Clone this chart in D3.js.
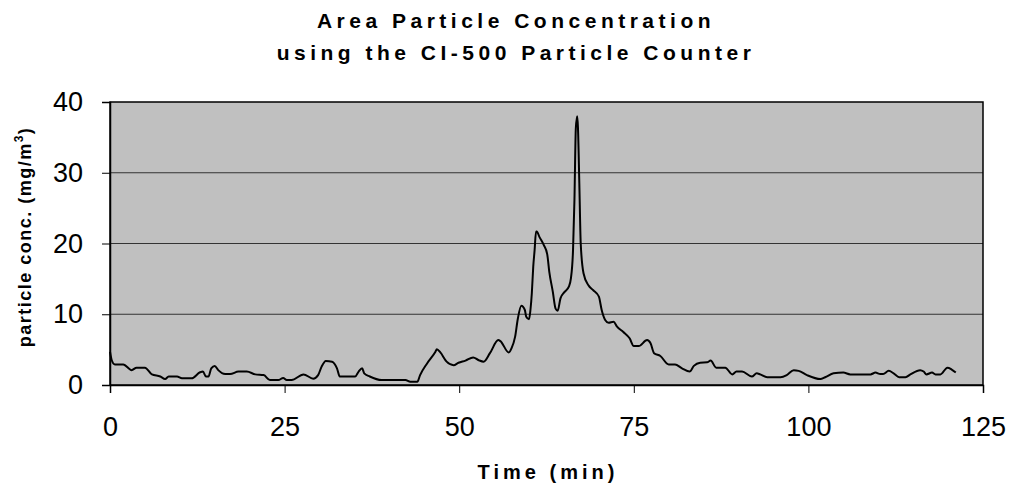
<!DOCTYPE html>
<html>
<head>
<meta charset="utf-8">
<script src="https://cdn.jsdelivr.net/npm/d3@7"></script>
<style>
  body { margin: 0; background: #fff; }
  svg { display: block; font-family: "Liberation Sans", Arial, sans-serif; }
</style>
</head>
<body>
<div id="chart"></div>
<script>
// time in minutes
const times = [0, 0.25, 0.7, 1.9, 3.1, 3.8, 5.0, 6.0, 7.2, 7.9, 8.4, 9.6, 10.3, 11.7, 12.9, 13.3, 13.75, 14.1, 14.5, 15.0, 15.5, 16.5, 17.2, 18.4, 19.6, 20.8, 22.0, 22.9, 24.1, 24.8, 25.3, 26.0,
  27.7, 29.1, 29.8, 30.3, 30.9, 31.8, 32.5, 32.9, 33.4, 35.1, 35.6, 36.1, 36.4, 37.2, 38.9, 42.3, 43.0, 44.0, 44.4, 45.4, 46.6, 46.8, 47.3, 48.2, 49.2, 49.9, 50.9, 52.0, 52.8, 53.5,
  54.4, 55.6, 55.9, 57.1, 57.5, 58.0, 58.4, 58.9, 59.4, 59.6, 60.0, 60.2, 60.4, 60.6, 60.8, 61.0, 61.1, 61.5, 62.1, 62.6, 62.9, 63.4, 63.8, 64.1, 64.5, 65.0, 65.7, 66.0, 66.3, 66.5,
  66.7, 66.9, 67.0, 67.2, 67.4, 67.8, 68.5, 69.2, 70.0, 70.4, 70.9, 71.4, 72.1, 72.6, 73.5, 74.4, 75.0, 75.7, 76.9, 77.4, 77.9, 78.8, 80.0, 80.9, 81.9, 83.0, 83.6, 84.5, 85.5, 86.0,
  86.8, 88.1, 89.1, 89.7, 90.5, 91.9, 92.6, 93.1, 94.1, 96.0, 96.9, 97.9, 98.6, 99.8, 101.7, 102.4, 103.6, 105.0, 106.0, 108.9, 109.6, 110.3, 110.7, 111.5, 112.2, 113.0, 113.9,
  114.6, 116.0, 116.5, 116.9, 117.7, 118.2, 118.9, 119.9, 121.1];

// particle concentration, mg/m3
const conc = [4.7, 3.5, 2.9, 2.9, 2.1, 2.45, 2.45, 1.5, 1.2, 0.85, 1.2, 1.2, 0.95, 0.95, 1.8, 1.9, 1.2, 1.2, 2.35, 2.7, 2.1, 1.55, 1.55, 1.9, 1.9, 1.5, 1.4, 0.7, 0.7, 1.0, 0.7, 0.7,
  1.5, 0.9, 1.4, 2.6, 3.4, 3.3, 2.35, 1.2, 1.2, 1.2, 1.9, 2.35, 1.65, 1.2, 0.7, 0.7, 0.45, 0.45, 1.4, 3.05, 4.7, 5.05, 4.6, 3.3, 2.8, 3.15, 3.45, 3.9, 3.5, 3.3,
  4.5, 6.35, 6.2, 4.6, 5.2, 6.8, 9.4, 11.2, 10.6, 9.65, 9.3, 10.6, 13.0, 16.7, 19.1, 21.7, 21.7, 20.9, 19.8, 18.5, 16.0, 13.2, 10.8, 10.5, 12.25, 13.05, 13.9, 15.1, 19.1, 26.1,
  36.3, 38.0, 36.5, 28.5, 20.0, 15.8, 14.1, 13.4, 12.5, 10.6, 9.2, 8.8, 8.95, 8.25, 7.5, 6.6, 5.5, 5.5, 6.35, 5.9, 4.5, 4.1, 2.9, 2.9, 2.35, 1.9, 2.7, 3.15, 3.2, 3.45,
  2.45, 2.45, 1.5, 1.9, 1.9, 1.2, 1.65, 1.5, 1.1, 1.1, 1.4, 2.1, 2.0, 1.4, 0.85, 1.1, 1.65, 1.75, 1.5, 1.5, 1.75, 1.55, 1.55, 2.0, 1.65, 1.1, 1.1,
  1.5, 2.1, 1.9, 1.5, 1.75, 1.5, 1.5, 2.45, 1.75];

const xTicks = [0, 25, 50, 75, 100, 125];
const yTicks = [0, 10, 20, 30, 40];

const W = 1012, H = 493;
const margin = {top: 102, right: 29, bottom: 108, left: 110};
const width = W - margin.left - margin.right,
      height = H - margin.top - margin.bottom;

const svg = d3.select("#chart").append("svg")
    .attr("width", W)
    .attr("height", H);

// titles (spaced out like the original)
const tx = 516;
const title = svg.append("text")
    .attr("x", tx).attr("y", 28)
    .attr("text-anchor", "middle")
    .style("font-size", "21px").style("font-weight", "bold").style("letter-spacing", "4.5px");
title.append("tspan").attr("x", tx).text("Area Particle Concentration");
title.append("tspan").attr("x", tx).attr("dy", 32).text("using the CI-500 Particle Counter");

const g = svg.append("g")
    .attr("transform", "translate(" + margin.left + "," + margin.top + ")");

const x = d3.scaleLinear().domain([0, 125]).range([0, width]);
const y = d3.scaleLinear().domain([0, 40]).range([height, 0]);

// plot area
g.append("rect")
    .attr("width", width).attr("height", height)
    .attr("fill", "#c0c0c0");

// gridlines
g.append("g").selectAll("line")
  .data(yTicks.filter(d => d > 0 && d < 40))
  .enter().append("line")
    .attr("x1", 0).attr("x2", width)
    .attr("y1", d => y(d)).attr("y2", d => y(d))
    .attr("stroke", "#333").attr("stroke-width", 1);

g.append("rect")
    .attr("width", width).attr("height", height)
    .attr("fill", "none").attr("stroke", "#000").attr("stroke-width", 1.5);

// axes
const xAxis = g.append("g")
    .attr("transform", "translate(0," + height + ")")
    .call(d3.axisBottom(x).tickValues(xTicks).tickSize(8).tickPadding(24).tickFormat(d3.format("d")));
const yAxis = g.append("g")
    .call(d3.axisLeft(y).tickValues(yTicks).tickSize(8).tickPadding(19).tickFormat(d3.format("d")));

[xAxis, yAxis].forEach(a => {
  a.select(".domain").attr("stroke", "#000").attr("stroke-width", 1.5);
  a.selectAll(".tick line").attr("stroke", "#000").attr("stroke-width", 1);
  a.selectAll(".tick text").attr("fill", "#000")
    .style("font-size", "27px").style("font-family", "'Liberation Sans', Arial, sans-serif");
});

// data line
const line = d3.line()
    .x((d, i) => x(times[i]))
    .y(d => y(d))
    .curve(d3.curveMonotoneX);

g.append("path")
    .datum(conc)
    .attr("fill", "none")
    .attr("stroke", "#000")
    .attr("stroke-width", 2)
    .attr("stroke-linejoin", "round")
    .attr("d", line);

// axis titles
svg.append("text")
    .attr("x", 548).attr("y", 479)
    .attr("text-anchor", "middle")
    .style("font-size", "20px").style("font-weight", "bold").style("letter-spacing", "4px")
    .text("Time (min)");

const yl = svg.append("text")
    .attr("transform", "translate(31,237) rotate(-90)")
    .attr("text-anchor", "middle")
    .style("font-size", "18px").style("font-weight", "bold").style("letter-spacing", "1.5px");
yl.append("tspan").text("particle conc. (mg/m");
yl.append("tspan").attr("dy", -8).style("font-size", "12px").text("3");
yl.append("tspan").attr("dy", 8).text(")");
</script>
</body>
</html>
